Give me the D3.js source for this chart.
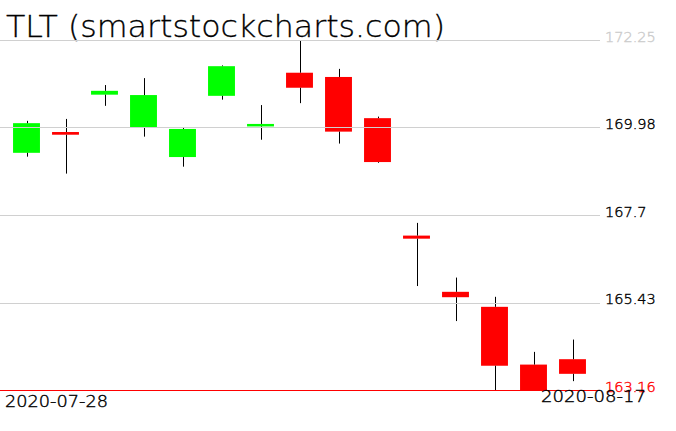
<!DOCTYPE html>
<html>
<head>
<meta charset="utf-8">
<script src="https://cdn.jsdelivr.net/npm/d3@7"></script>
<style>
  body { margin: 0; background: #fff; }
  text { font-family: 'DejaVu Sans', sans-serif; font-weight: 200; stroke-width: 0.4; }
</style>
</head>
<body>
<div id="chart"></div>
<script>
var WIDTH = 676
var HEIGHT = 431

// data
var dates = ['2020-07-28', '2020-07-29', '2020-07-30', '2020-07-31', '2020-08-03',
             '2020-08-04', '2020-08-05', '2020-08-06', '2020-08-07', '2020-08-10',
             '2020-08-11', '2020-08-12', '2020-08-13', '2020-08-14', '2020-08-17']
var opens  = [169.32, 169.86, 170.83, 169.97, 169.21, 170.80, 170.05, 171.40, 171.29, 170.22, 167.17, 165.71, 165.32, 163.82, 163.96]
var highs  = [170.15, 170.20, 171.08, 171.26, 169.99, 171.59, 170.56, 172.25, 171.50, 170.26, 167.50, 166.08, 165.58, 164.15, 164.47]
var lows   = [169.22, 168.78, 170.54, 169.74, 168.96, 170.70, 169.66, 170.61, 169.56, 169.06, 165.86, 164.95, 163.16, 163.16, 163.39]
var closes = [170.09, 169.79, 170.93, 170.82, 169.94, 171.57, 170.07, 171.01, 169.87, 169.08, 167.09, 165.57, 163.79, 163.16, 163.58]

var tickValues = [163.16, 165.43, 167.7, 169.98, 172.25]
var tickLabels = ['163.16', '165.43', '167.7', '169.98', '172.25']
var title = 'TLT (smartstockcharts.com)'

var candles = dates.map(function (d, i) {
  return {date: d, open: opens[i], high: highs[i], low: lows[i], close: closes[i]}
})

var svg = d3.select('#chart').append('svg')
  .attr('width', WIDTH)
  .attr('height', HEIGHT)

var x = d3.scaleBand()
  .domain(dates)
  .range([7, 592])
  .paddingInner(0.31)
  .paddingOuter(0.155)

var y = d3.scaleLinear()
  .domain([163.16, 172.25])
  .range([390, 40])

var MIN_BODY = 2.5

// title
svg.append('text')
  .attr('x', 6)
  .attr('y', 37)
  .attr('font-size', 30)
  .attr('textLength', 439)
  .attr('lengthAdjust', 'spacingAndGlyphs')
  .attr('fill', '#000')
  .attr('stroke', '#000')
  .style('stroke-width', 0.3)
  .text(title)

// candles
var g = svg.append('g')

g.selectAll('rect.body')
  .data(candles)
  .enter().append('rect')
  .attr('class', 'body')
  .attr('x', function (d) { return x(d.date) })
  .attr('width', x.bandwidth())
  .attr('y', function (d) { return y(Math.max(d.open, d.close)) })
  .attr('height', function (d) { return Math.max(MIN_BODY, Math.abs(y(d.open) - y(d.close))) })
  .attr('fill', function (d) { return d.close >= d.open ? '#00ff00' : '#ff0000' })

var cx = function (d) { return Math.round(x(d.date) + x.bandwidth() / 2) + 0.5 }

// wicks (upper and lower parts)
g.selectAll('line.up')
  .data(candles)
  .enter().append('line')
  .attr('class', 'up')
  .attr('x1', cx)
  .attr('x2', cx)
  .attr('y1', function (d) { return y(d.high) })
  .attr('y2', function (d) { return y(Math.max(d.open, d.close)) })
  .attr('stroke', '#000')
  .attr('stroke-width', 1)

g.selectAll('line.down')
  .data(candles)
  .enter().append('line')
  .attr('class', 'down')
  .attr('x1', cx)
  .attr('x2', cx)
  .attr('y1', function (d) {
    var h = Math.abs(y(d.open) - y(d.close))
    return y(Math.min(d.open, d.close)) + (h < MIN_BODY ? MIN_BODY - h : 0)
  })
  .attr('y2', function (d) { return y(d.low) })
  .attr('stroke', '#000')
  .attr('stroke-width', 1)

// grid lines sit on top of the candles
svg.selectAll('line.grid')
  .data(tickValues)
  .enter().append('line')
  .attr('class', 'grid')
  .attr('x1', 0)
  .attr('x2', 600)
  .attr('y1', function (d) { return Math.round(y(d)) + 0.5 })
  .attr('y2', function (d) { return Math.round(y(d)) + 0.5 })
  .attr('stroke', function (d, i) { return i === 0 ? '#ff0000' : '#d0d0d0' })
  .attr('stroke-width', 1)

var priceColor = function (d, i) {
  if (i === 0) return '#ff0000'
  if (i === tickValues.length - 1) return '#cccccc'
  return '#000'
}

svg.selectAll('text.price')
  .data(tickValues)
  .enter().append('text')
  .attr('class', 'price')
  .attr('x', 605)
  .attr('y', function (d) { return y(d) + 1.5 })
  .attr('font-size', 14.5)
  .attr('fill', priceColor)
  .attr('stroke', priceColor)
  .text(function (d, i) { return tickLabels[i] })

// date labels
svg.append('text')
  .attr('x', 5)
  .attr('y', 406.5)
  .attr('font-size', 16)
  .attr('textLength', 103)
  .attr('lengthAdjust', 'spacingAndGlyphs')
  .attr('fill', '#000')
  .attr('stroke', '#000')
  .text(dates[0])

svg.append('text')
  .attr('x', 541)
  .attr('y', 402)
  .attr('font-size', 16)
  .attr('textLength', 105)
  .attr('lengthAdjust', 'spacingAndGlyphs')
  .attr('fill', '#000')
  .attr('stroke', '#000')
  .text(dates[dates.length - 1])
</script>
</body>
</html>
